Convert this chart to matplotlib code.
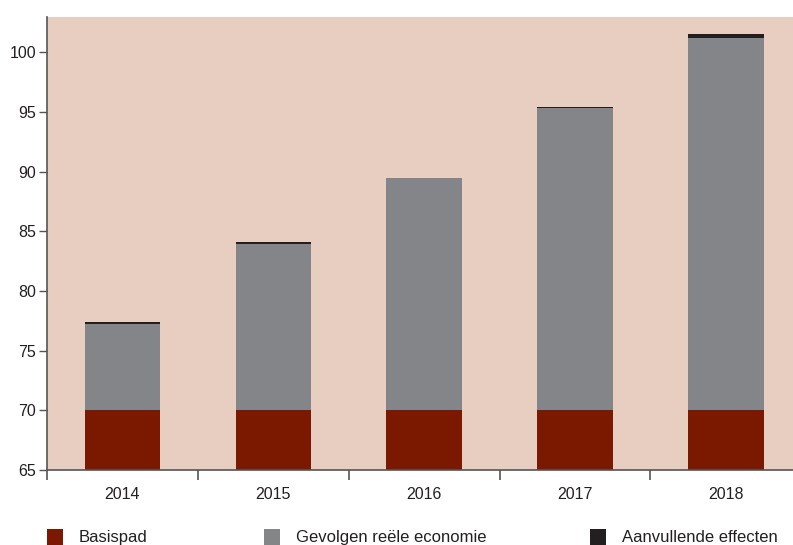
import matplotlib
matplotlib.use("Agg")
import matplotlib.pyplot as plt
from matplotlib.patches import Patch

years = ["2014", "2015", "2016", "2017", "2018"]
basispad = [70, 70, 70, 70, 70]
gevolgen = [7.25, 13.95, 19.45, 25.3, 31.2]
aanvullend = [0.15, 0.15, 0.0, 0.15, 0.35]
series_names = ["Basispad", "Gevolgen reële economie", "Aanvullende effecten"]
yticks = [65, 70, 75, 80, 85, 90, 95, 100]

RED = "#7B1800"; GREY = "#848589"; BLACK = "#231F20"; BG = "#E8CDC1"; TXT = "#231F20"

plt.rcParams['font.family'] = ['Liberation Sans', 'DejaVu Sans']
fig = plt.figure(figsize=(7.93, 5.45), dpi=100)
ax = fig.add_axes([47/793, 75/545, 1 - 47/793, (470-17)/545])
ax.set_facecolor(BG)

x = list(range(len(years)))
w = 0.5
ax.bar(x, basispad, w, color=RED, zorder=2)
ax.bar(x, gevolgen, w, bottom=basispad, color=GREY, zorder=2)
a_bottom = [b + g for b, g in zip(basispad, gevolgen)]
ax.bar(x, aanvullend, w, bottom=a_bottom, color=BLACK, zorder=2)

ax.set_ylim(65, 102.95)
ax.set_xlim(-0.5, 4.445)
ax.set_yticks(yticks)
ax.set_yticklabels([str(v) for v in yticks])
ax.set_xticks([-0.5, 0.5, 1.5, 2.5, 3.5])
ax.set_xticklabels([])
ax.set_xticks(x, minor=True)
ax.set_xticklabels(years, minor=True)
ax.tick_params(axis="x", which="major", length=7, width=1.2, color="#555555", direction="out")
ax.tick_params(axis="x", which="minor", length=0, pad=12, labelsize=11.5, labelcolor=TXT)
ax.tick_params(axis="y", length=6, width=1, color="#555555", labelsize=11.5, labelcolor=TXT, pad=2)
for s in ["top", "right"]:
    ax.spines[s].set_visible(False)
for s in ["left", "bottom"]:
    ax.spines[s].set_color("#555555")
    ax.spines[s].set_linewidth(1.2)

colors = [RED, GREY, BLACK]
xpos = [47, 264, 590]
for name, c, xp in zip(series_names, colors, xpos):
    fig.legend(handles=[Patch(facecolor=c, label=name)], loc="center left",
               bbox_to_anchor=(xp/793, 1 - 537/545), frameon=False,
               fontsize=12, handlelength=0.95, handleheight=1.1,
               handletextpad=0.95, borderpad=0, borderaxespad=0, labelcolor=TXT)

plt.savefig("out.png", dpi=100)
